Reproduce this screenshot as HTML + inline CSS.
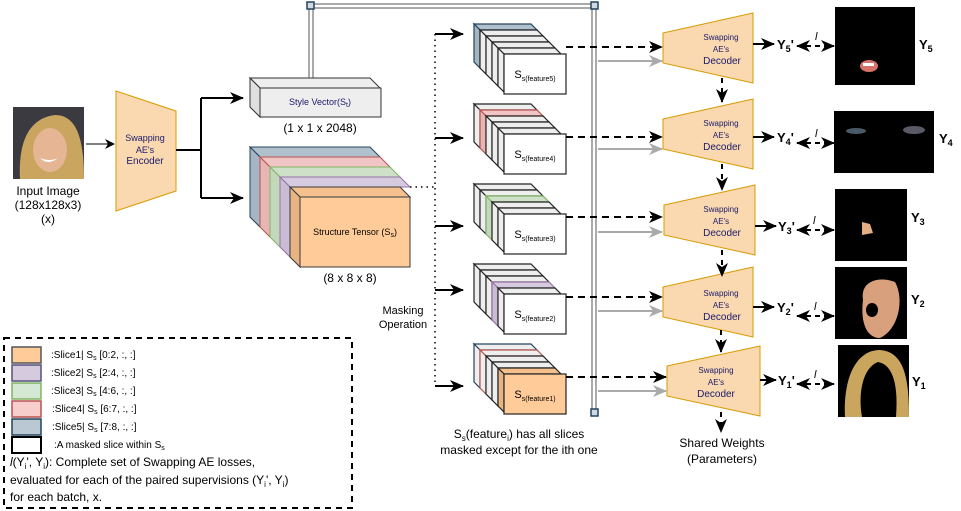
<!DOCTYPE html>
<html><head><meta charset="utf-8"><style>
body{margin:0;background:#fff}
svg{display:block;font-family:"Liberation Sans",sans-serif}
</style></head><body>
<svg width="961" height="511" viewBox="0 0 961 511" xmlns="http://www.w3.org/2000/svg">
<defs>
<marker id="ah" markerWidth="10" markerHeight="10" refX="9" refY="5" orient="auto" markerUnits="userSpaceOnUse"><path d="M0,0 L10,5 L0,10 L3,5 Z" fill="#000"/></marker>
<marker id="ahs" markerWidth="14" markerHeight="12" refX="13" refY="6" orient="auto" markerUnits="userSpaceOnUse"><path d="M0,0 L14,6 L0,12 L4,6 Z" fill="#000"/></marker>
<marker id="ahr" markerWidth="14" markerHeight="12" refX="1" refY="6" orient="auto" markerUnits="userSpaceOnUse"><path d="M14,0 L0,6 L14,12 L10,6 Z" fill="#000"/></marker>
<marker id="ahg" markerWidth="14" markerHeight="12" refX="13" refY="6" orient="auto" markerUnits="userSpaceOnUse"><path d="M0,0 L14,6 L0,12 L4,6 Z" fill="#aaa"/></marker>
</defs>

<rect x="13" y="107" width="71" height="72" fill="#3a3a40"/>
<path d="M20,179 C18,140 30,118 55,115 C75,115 84,135 84,179 Z" fill="#c9a560"/>
<ellipse cx="50" cy="150" rx="17" ry="22" fill="#e6b593"/>
<path d="M40,158 Q48,166 58,158 Q50,162 40,158Z" fill="#fff"/>
<text x="48" y="195" font-size="12" text-anchor="middle">Input Image</text>
<text x="48" y="209" font-size="12" text-anchor="middle">(128x128x3)</text>
<text x="48" y="223" font-size="12" text-anchor="middle">(x)</text>
<line x1="86" y1="144" x2="114" y2="144" stroke="#000" marker-end="url(#ah)"/>

<polygon points="116,91 176,111 176,191 116,211" fill="#fad9b0" stroke="#d79b00"/>
<text x="145" y="141" font-size="9" fill="#1a1a6a" text-anchor="middle">Swapping</text>
<text x="145" y="153" font-size="9" fill="#1a1a6a" text-anchor="middle">AE's</text>
<text x="145" y="164" font-size="10" fill="#1a1a6a" text-anchor="middle">Encoder</text>
<path d="M176,150 H201 M201,98 V198" stroke="#000" stroke-width="2" fill="none"/>
<line x1="201" y1="98" x2="243" y2="98" stroke="#000" stroke-width="2" marker-end="url(#ahs)"/>
<line x1="201" y1="198" x2="243" y2="198" stroke="#000" stroke-width="2" marker-end="url(#ahs)"/>

<path d="M311,78 V6 H594 V413" stroke="#aaa" stroke-width="6" fill="none"/>
<path d="M311,78 V6 H594 V413" stroke="#fff" stroke-width="2" fill="none"/>
<rect x="307" y="2" width="7" height="7" fill="#cfd9e3" stroke="#23445d" stroke-width="1.5"/>
<rect x="591" y="2" width="7" height="7" fill="#cfd9e3" stroke="#23445d" stroke-width="1.5"/>
<rect x="591" y="409" width="7" height="7" fill="#cfd9e3" stroke="#23445d" stroke-width="1.5"/>

<polygon points="250,78 370,78 380,88 260,88" fill="#eee" stroke="#333"/>
<polygon points="250,78 260,88 260,117 250,107" fill="#e0e0e0" stroke="#333"/>
<rect x="260" y="88" width="121" height="29" fill="#eee" stroke="#333"/>
<text x="320" y="105" font-size="9" fill="#1a1a6a" text-anchor="middle">Style Vector(S<tspan font-size="7" dy="2">t</tspan><tspan dy="-2">)</tspan></text>
<text x="320" y="132" font-size="12" text-anchor="middle">(1 x 1 x 2048)</text>

<g stroke-width="1">
<polygon points="250,147 370,147 380,157 260,157" fill="#b0c0cc" stroke="#23445d"/>
<polygon points="250,147 260,157 260,227 250,217" fill="#a5b5c4" stroke="#23445d"/>
<polygon points="260,157 380,157 390,167 270,167" fill="#f1c5c5" stroke="#b85450"/>
<polygon points="260,157 270,167 270,237 260,227" fill="#e8b5b5" stroke="#b85450"/>
<polygon points="270,167 390,167 400,177 280,177" fill="#cfe0c8" stroke="#82b366"/>
<polygon points="270,167 280,177 280,247 270,237" fill="#c3d8bb" stroke="#82b366"/>
<polygon points="280,177 400,177 410,187 290,187" fill="#d6cade" stroke="#9673a6"/>
<polygon points="280,177 290,187 290,257 280,247" fill="#cbbcd6" stroke="#9673a6"/>
<polygon points="290,187 400,187 410,197 300,197" fill="#f5c08e" stroke="#36393d"/>
<polygon points="290,187 300,197 300,267 290,257" fill="#e8b482" stroke="#36393d"/>
<rect x="300" y="197" width="110" height="70" fill="#ffcc99" stroke="#36393d"/>
</g>
<text x="355" y="235" font-size="9" text-anchor="middle">Structure Tensor (S<tspan font-size="7" dy="2">s</tspan><tspan dy="-2">)</tspan></text>
<text x="350" y="282" font-size="12" text-anchor="middle">(8 x 8 x 8)</text>

<path d="M410,187 H435 M435,34 V386" stroke="#000" stroke-width="1.5" stroke-dasharray="1.5,4" fill="none"/>
<text x="403" y="314" font-size="11" text-anchor="middle">Masking</text>
<text x="403" y="328" font-size="11" text-anchor="middle">Operation</text>
<g stroke="#000" stroke-width="2">
<line x1="435" y1="34" x2="463" y2="34" marker-end="url(#ahs)"/>
<line x1="435" y1="138" x2="463" y2="138" marker-end="url(#ahs)"/>
<line x1="435" y1="226" x2="463" y2="226" marker-end="url(#ahs)"/>
<line x1="435" y1="290" x2="463" y2="290" marker-end="url(#ahs)"/>
<line x1="435" y1="386" x2="463" y2="386" marker-end="url(#ahs)"/>
</g>

<g stroke="#222" stroke-width="1.2">
<polygon points="474,24 531,24 537,30 480,30" fill="#b0c0cc" stroke="#23445d"/><polygon points="474,24 480,30 480,68 474,62" fill="#a5b5c4" stroke="#23445d"/>
<polygon points="480,30 537,30 543,36 486,36" fill="#eee"/><polygon points="480,30 486,36 486,74 480,68" fill="#eee"/>
<polygon points="486,36 543,36 549,42 492,42" fill="#eee"/><polygon points="486,36 492,42 492,80 486,74" fill="#eee"/>
<polygon points="492,42 549,42 555,48 498,48" fill="#eee"/><polygon points="492,42 498,48 498,86 492,80" fill="#eee"/>
<polygon points="498,48 555,48 561,54 504,54" fill="#eee"/><polygon points="498,48 504,54 504,92 498,86" fill="#eee"/>
<rect x="504" y="54" width="62" height="40" fill="#fff"/>
<polygon points="474,104 531,104 537,110 480,110" fill="#eee"/><polygon points="474,104 480,110 480,148 474,142" fill="#eee"/>
<polygon points="480,110 537,110 543,116 486,116" fill="#f1c5c5" stroke="#b85450"/><polygon points="480,110 486,116 486,154 480,148" fill="#e8b5b5" stroke="#b85450"/>
<polygon points="486,116 543,116 549,122 492,122" fill="#eee"/><polygon points="486,116 492,122 492,160 486,154" fill="#eee"/>
<polygon points="492,122 549,122 555,128 498,128" fill="#eee"/><polygon points="492,122 498,128 498,166 492,160" fill="#eee"/>
<polygon points="498,128 555,128 561,134 504,134" fill="#eee"/><polygon points="498,128 504,134 504,172 498,166" fill="#eee"/>
<rect x="504" y="134" width="62" height="40" fill="#fff"/>
<polygon points="474,184 531,184 537,190 480,190" fill="#eee"/><polygon points="474,184 480,190 480,228 474,222" fill="#eee"/>
<polygon points="480,190 537,190 543,196 486,196" fill="#eee"/><polygon points="480,190 486,196 486,234 480,228" fill="#eee"/>
<polygon points="486,196 543,196 549,202 492,202" fill="#cfe0c8" stroke="#82b366"/><polygon points="486,196 492,202 492,240 486,234" fill="#c3d8bb" stroke="#82b366"/>
<polygon points="492,202 549,202 555,208 498,208" fill="#eee"/><polygon points="492,202 498,208 498,246 492,240" fill="#eee"/>
<polygon points="498,208 555,208 561,214 504,214" fill="#eee"/><polygon points="498,208 504,214 504,252 498,246" fill="#eee"/>
<rect x="504" y="214" width="62" height="40" fill="#fff"/>
<polygon points="474,264 531,264 537,270 480,270" fill="#eee"/><polygon points="474,264 480,270 480,308 474,302" fill="#eee"/>
<polygon points="480,270 537,270 543,276 486,276" fill="#eee"/><polygon points="480,270 486,276 486,314 480,308" fill="#eee"/>
<polygon points="486,276 543,276 549,282 492,282" fill="#eee"/><polygon points="486,276 492,282 492,320 486,314" fill="#eee"/>
<polygon points="492,282 549,282 555,288 498,288" fill="#d6cade" stroke="#9673a6"/><polygon points="492,282 498,288 498,326 492,320" fill="#cbbcd6" stroke="#9673a6"/>
<polygon points="498,288 555,288 561,294 504,294" fill="#eee"/><polygon points="498,288 504,294 504,332 498,326" fill="#eee"/>
<rect x="504" y="294" width="62" height="40" fill="#fff"/>
<polygon points="474,344 531,344 537,350 480,350" fill="#eee" stroke="#23445d"/><polygon points="474,344 480,350 480,388 474,382" fill="#eee" stroke="#23445d"/>
<polygon points="480,350 537,350 543,356 486,356" fill="#eee" stroke="#b85450"/><polygon points="480,350 486,356 486,394 480,388" fill="#eee" stroke="#b85450"/>
<polygon points="486,356 543,356 549,362 492,362" fill="#eee"/><polygon points="486,356 492,362 492,400 486,394" fill="#eee"/>
<polygon points="492,362 549,362 555,368 498,368" fill="#eee"/><polygon points="492,362 498,368 498,406 492,400" fill="#eee"/>
<polygon points="498,368 555,368 561,374 504,374" fill="#f5c08e"/><polygon points="498,368 504,374 504,412 498,406" fill="#e8b482"/>
<rect x="504" y="374" width="62" height="40" fill="#ffcc99"/>
</g>
<g font-size="11" text-anchor="middle">
<text x="535" y="78">S<tspan font-size="7" dy="3">s(feature5)</tspan></text>
<text x="535" y="158">S<tspan font-size="7" dy="3">s(feature4)</tspan></text>
<text x="535" y="238">S<tspan font-size="7" dy="3">s(feature3)</tspan></text>
<text x="535" y="318">S<tspan font-size="7" dy="3">s(feature2)</tspan></text>
<text x="535" y="398">S<tspan font-size="7" dy="3">s(feature1)</tspan></text>
</g>
<text x="519" y="438" font-size="12" text-anchor="middle">S<tspan font-size="8" dy="3">s</tspan><tspan dy="-3">(feature</tspan><tspan font-size="8" dy="3">i</tspan><tspan dy="-3">) has all slices</tspan></text>
<text x="519" y="454" font-size="12" text-anchor="middle">masked except for the ith one</text>

<g stroke="#000" stroke-width="2" stroke-dasharray="7,5">
<line x1="566" y1="47" x2="662" y2="47" marker-end="url(#ahs)"/>
<line x1="566" y1="137" x2="662" y2="137" marker-end="url(#ahs)"/>
<line x1="566" y1="217" x2="662" y2="217" marker-end="url(#ahs)"/>
<line x1="566" y1="297" x2="662" y2="297" marker-end="url(#ahs)"/>
<line x1="566" y1="377" x2="666" y2="377" marker-end="url(#ahs)"/>
</g>
<g stroke="#aaa" stroke-width="2">
<line x1="598" y1="61" x2="662" y2="61" marker-end="url(#ahg)"/>
<line x1="598" y1="149" x2="662" y2="149" marker-end="url(#ahg)"/>
<line x1="598" y1="232" x2="662" y2="232" marker-end="url(#ahg)"/>
<line x1="598" y1="311" x2="662" y2="311" marker-end="url(#ahg)"/>
<line x1="598" y1="391" x2="666" y2="391" marker-end="url(#ahg)"/>
</g>

<g fill="#fad9b0" stroke="#d79b00">
<polygon points="663,33 753,13 753,83 663,63"/>
<polygon points="663,119 753,99 753,169 663,149"/>
<polygon points="664,205 755,185 755,255 664,235"/>
<polygon points="663,287 753,267 753,337 663,317"/>
<polygon points="667,366 760,346 760,416 667,396"/>
</g>
<g fill="#1a1a6a" text-anchor="middle">
<text x="721" y="40" font-size="8">Swapping</text><text x="721" y="52" font-size="8">AE's</text><text x="722" y="64" font-size="10">Decoder</text>
<text x="721" y="126" font-size="8">Swapping</text><text x="721" y="138" font-size="8">AE's</text><text x="722" y="150" font-size="10">Decoder</text>
<text x="721" y="212" font-size="8">Swapping</text><text x="721" y="224" font-size="8">AE's</text><text x="722" y="236" font-size="10">Decoder</text>
<text x="721" y="296" font-size="8">Swapping</text><text x="721" y="308" font-size="8">AE's</text><text x="722" y="320" font-size="10">Decoder</text>
<text x="716" y="373" font-size="8">Swapping</text><text x="716" y="385" font-size="8">AE's</text><text x="716" y="397" font-size="10">Decoder</text>
</g>
<g stroke="#000" stroke-width="2" stroke-dasharray="5,5">
<line x1="722" y1="78" x2="722" y2="102" marker-end="url(#ahs)"/>
<line x1="722" y1="164" x2="722" y2="190" marker-end="url(#ahs)"/>
<line x1="722" y1="250" x2="722" y2="276" marker-end="url(#ahs)"/>
<line x1="721" y1="330" x2="721" y2="352" marker-end="url(#ahs)"/>
<line x1="721" y1="412" x2="721" y2="432" marker-end="url(#ahs)"/>
</g>
<text x="722" y="447" font-size="12" text-anchor="middle">Shared Weights</text>
<text x="722" y="463" font-size="12" text-anchor="middle">(Parameters)</text>

<g stroke="#000" stroke-width="2">
<line x1="753" y1="44" x2="774" y2="44" marker-end="url(#ahs)"/>
<line x1="753" y1="137" x2="774" y2="137" marker-end="url(#ahs)"/>
<line x1="755" y1="226" x2="776" y2="226" marker-end="url(#ahs)"/>
<line x1="753" y1="307" x2="774" y2="307" marker-end="url(#ahs)"/>
<line x1="760" y1="380" x2="776" y2="380" marker-end="url(#ahs)"/>
</g>
<g font-size="13" font-weight="bold">
<text x="777" y="49">Y<tspan font-size="9" dy="3">5</tspan><tspan dy="-3">'</tspan></text>
<text x="777" y="142">Y<tspan font-size="9" dy="3">4</tspan><tspan dy="-3">'</tspan></text>
<text x="778" y="231">Y<tspan font-size="9" dy="3">3</tspan><tspan dy="-3">'</tspan></text>
<text x="777" y="312">Y<tspan font-size="9" dy="3">2</tspan><tspan dy="-3">'</tspan></text>
<text x="778" y="385">Y<tspan font-size="9" dy="3">1</tspan><tspan dy="-3">'</tspan></text>
</g>
<g stroke="#000" stroke-width="2" stroke-dasharray="5,4">
<line x1="797" y1="46" x2="834" y2="46" marker-start="url(#ahr)" marker-end="url(#ahs)"/>
<line x1="797" y1="143" x2="834" y2="143" marker-start="url(#ahr)" marker-end="url(#ahs)"/>
<line x1="797" y1="230" x2="834" y2="230" marker-start="url(#ahr)" marker-end="url(#ahs)"/>
<line x1="797" y1="316" x2="834" y2="316" marker-start="url(#ahr)" marker-end="url(#ahs)"/>
<line x1="797" y1="384" x2="834" y2="384" marker-start="url(#ahr)" marker-end="url(#ahs)"/>
</g>
<g font-size="11" font-style="italic">
<text x="815" y="40">l</text><text x="815" y="137">l</text><text x="813" y="224">l</text><text x="814" y="310">l</text><text x="814" y="378">l</text>
</g>
<rect x="835" y="7" width="80" height="78" fill="#000"/>
<ellipse cx="869" cy="66" rx="9" ry="6" fill="#d9716b"/><rect x="863" y="63" width="11" height="3" fill="#fff"/>
<rect x="834" y="111" width="100" height="62" fill="#000"/>
<ellipse cx="856" cy="131" rx="10" ry="3" fill="#4a5a66"/><ellipse cx="914" cy="130" rx="11" ry="4" fill="#5a5a66"/>
<rect x="835" y="189" width="72" height="72" fill="#000"/>
<path d="M862,222 L870,224 L873,233 L862,235 Z" fill="#e3ae86"/>
<rect x="835" y="267" width="72" height="72" fill="#000"/>
<path d="M863,300 C860,280 880,276 895,282 C905,300 898,330 880,338 C868,338 860,325 863,300Z" fill="#d9a07e"/>
<ellipse cx="872" cy="310" rx="6" ry="7" fill="#000"/>
<rect x="838" y="345" width="71" height="72" fill="#000"/>
<path d="M845,417 C843,380 855,350 880,350 C905,352 909,380 909,417 L896,417 C898,390 895,365 878,362 C862,368 858,395 862,417 Z" fill="#c9a55e"/>
<g font-size="13" font-weight="bold">
<text x="919" y="49">Y<tspan font-size="9" dy="3">5</tspan></text>
<text x="939" y="143">Y<tspan font-size="9" dy="3">4</tspan></text>
<text x="911" y="222">Y<tspan font-size="9" dy="3">3</tspan></text>
<text x="911" y="304">Y<tspan font-size="9" dy="3">2</tspan></text>
<text x="912" y="386">Y<tspan font-size="9" dy="3">1</tspan></text>
</g>

<rect x="4" y="338" width="348" height="170" fill="none" stroke="#000" stroke-width="2" stroke-dasharray="6,5"/>
<g stroke-width="1.5">
<rect x="12" y="347" width="29" height="16" fill="#ffcc99" stroke="#555"/>
<rect x="12" y="365" width="29" height="16" fill="#d6cade" stroke="#56517e"/>
<rect x="12" y="383" width="29" height="16" fill="#d5e8d4" stroke="#82b366"/>
<rect x="12" y="401" width="29" height="16" fill="#f8cecc" stroke="#b85450"/>
<rect x="12" y="419" width="29" height="16" fill="#bac8d3" stroke="#23445d"/>
<rect x="12" y="437" width="29" height="16" fill="#fff" stroke="#000" stroke-width="2"/>
</g>
<g font-size="10">
<text x="51" y="358">:Slice1| S<tspan font-size="7" dy="2">s</tspan><tspan dy="-2"> [0:2, :, :]</tspan></text>
<text x="51" y="376">:Slice2| S<tspan font-size="7" dy="2">s</tspan><tspan dy="-2"> [2:4, :, :]</tspan></text>
<text x="51" y="394">:Slice3| S<tspan font-size="7" dy="2">s</tspan><tspan dy="-2"> [4:6, :, :]</tspan></text>
<text x="52" y="412">:Slice4| S<tspan font-size="7" dy="2">s</tspan><tspan dy="-2"> [6:7, :, :]</tspan></text>
<text x="52" y="430">:Slice5| S<tspan font-size="7" dy="2">s</tspan><tspan dy="-2"> [7:8, :, :]</tspan></text>
<text x="54" y="448">:A masked slice within S<tspan font-size="7" dy="2">s</tspan></text>
</g>
<g font-size="12">
<text x="10" y="466"><tspan font-style="italic">l</tspan>(Y<tspan font-size="8" dy="3">i</tspan><tspan dy="-3">', Y</tspan><tspan font-size="8" dy="3">i</tspan><tspan dy="-3">): Complete set of Swapping AE losses,</tspan></text>
<text x="10" y="484">evaluated for each of the paired supervisions (Y<tspan font-size="8" dy="3">i</tspan><tspan dy="-3">', Y</tspan><tspan font-size="8" dy="3">i</tspan><tspan dy="-3">)</tspan></text>
<text x="10" y="501">for each batch, x.</text>
</g>
</svg>
</body></html>
